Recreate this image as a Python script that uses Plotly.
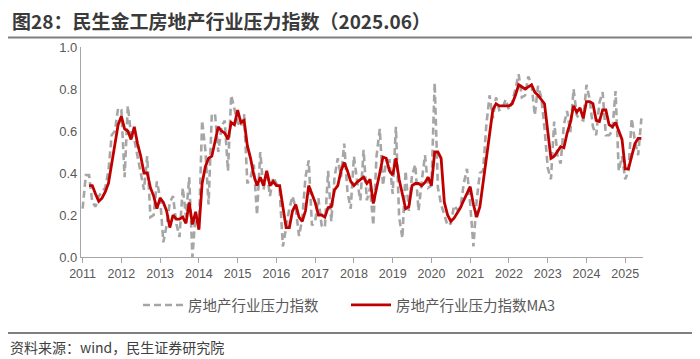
import plotly.graph_objects as go

# ---------------- data (monthly, 2011-01 .. 2025-06) ----------------
year_labels = [str(y) for y in range(2011, 2026)]

# raw index (grey dashed)
pressure_index = [
    0.23, 0.39, 0.39, 0.26, 0.24, 0.29, 0.31, 0.33, 0.41, 0.58, 0.60, 0.71,   # 2011
    0.70, 0.38, 0.72, 0.58, 0.56, 0.48, 0.40, 0.32, 0.48, 0.19, 0.20, 0.36,   # 2012
    0.28, 0.07, 0.15, 0.26, 0.29, 0.16, 0.095, 0.33, 0.19, 0.38, 0.0, 0.21,   # 2013
    0.13, 0.65, 0.51, 0.25, 0.68, 0.68, 0.50, 0.62, 0.65, 0.41, 0.77, 0.70,   # 2014
    0.64, 0.62, 0.68, 0.35, 0.38, 0.44, 0.20, 0.50, 0.32, 0.41, 0.29, 0.38,   # 2015
    0.35, 0.32, 0.05, 0.14, 0.23, 0.29, 0.23, 0.10, 0.18, 0.38, 0.46, 0.15,   # 2016
    0.17, 0.28, 0.15, 0.14, 0.41, 0.17, 0.38, 0.47, 0.38, 0.54, 0.31, 0.23,   # 2017
    0.48, 0.36, 0.27, 0.51, 0.27, 0.33, 0.15, 0.48, 0.61, 0.34, 0.46, 0.46,   # 2018
    0.30, 0.62, 0.19, 0.09, 0.41, 0.22, 0.39, 0.44, 0.22, 0.36, 0.485, 0.33,  # 2019
    0.34, 0.83, 0.33, 0.25, 0.20, 0.15, 0.16, 0.245, 0.225, 0.235, 0.35, 0.42,  # 2020
    0.25, 0.05, 0.27, 0.40, 0.41, 0.63, 0.77, 0.66, 0.76, 0.70, 0.71, 0.75,   # 2021
    0.70, 0.74, 0.80, 0.87, 0.76, 0.77, 0.86, 0.82, 0.675, 0.815, 0.76, 0.615,  # 2022
    0.425, 0.37, 0.645, 0.485, 0.445, 0.63, 0.695, 0.595, 0.80, 0.675, 0.655, 0.65,  # 2023
    0.82, 0.75, 0.62, 0.58, 0.735, 0.785, 0.58, 0.58, 0.60, 0.79, 0.41, 0.48,  # 2024
    0.37, 0.41, 0.66, 0.55, 0.485, 0.66,                                      # 2025
]

# 3-month moving average (red)
pressure_ma3 = [
    None, None, 0.34, 0.34, 0.30, 0.265, 0.28, 0.31, 0.35, 0.44, 0.53, 0.63,  # 2011
    0.67, 0.61, 0.60, 0.56, 0.62, 0.54, 0.48, 0.40, 0.40, 0.33, 0.29, 0.23,   # 2012
    0.28, 0.26, 0.22, 0.14, 0.20, 0.18, 0.18, 0.19, 0.16, 0.26, 0.155, 0.215,  # 2013
    0.13, 0.35, 0.43, 0.47, 0.48, 0.55, 0.62, 0.60, 0.59, 0.56, 0.64, 0.63,   # 2014
    0.70, 0.64, 0.65, 0.53, 0.47, 0.39, 0.34, 0.38, 0.34, 0.41, 0.34, 0.36,   # 2015
    0.34, 0.34, 0.25, 0.14, 0.14, 0.22, 0.25, 0.19, 0.17, 0.22, 0.34, 0.30,   # 2016
    0.26, 0.20, 0.20, 0.19, 0.235, 0.24, 0.32, 0.34, 0.41, 0.45, 0.41, 0.36,  # 2017
    0.34, 0.357, 0.37, 0.38, 0.35, 0.37, 0.255, 0.32, 0.40, 0.476, 0.47, 0.41,  # 2018
    0.39, 0.47, 0.37, 0.30, 0.23, 0.24, 0.34, 0.35, 0.35, 0.34, 0.355, 0.38,  # 2019
    0.34, 0.50, 0.50, 0.47, 0.26, 0.20, 0.17, 0.185, 0.21, 0.235, 0.27, 0.30,  # 2020
    0.335, 0.25, 0.19, 0.24, 0.36, 0.48, 0.60, 0.70, 0.73, 0.72, 0.72, 0.72,  # 2021
    0.72, 0.73, 0.77, 0.82, 0.81, 0.80, 0.81, 0.82, 0.785, 0.77, 0.75, 0.73,  # 2022
    0.60, 0.47, 0.48, 0.50, 0.525, 0.52, 0.59, 0.64, 0.72, 0.69, 0.71, 0.66,  # 2023
    0.74, 0.74, 0.73, 0.65, 0.645, 0.70, 0.70, 0.63, 0.62, 0.64, 0.60, 0.56,  # 2024
    0.42, 0.42, 0.48, 0.54, 0.565, 0.565,                                     # 2025
]

assert len(pressure_index) == len(pressure_ma3) == 174

months = list(range(len(pressure_index)))
year_ticks = [12 * i for i in range(len(year_labels))]

# ---------------- geometry (page pixels; the page body has an 8px margin) ----------------
OFF = 8
PAGE_W, PAGE_H = 700, 359
W, H = PAGE_W - OFF, PAGE_H - OFF
AX_L, AX_R, AX_T, AX_B = 81, 643, 47, 257     # plot area in page pixels
L = AX_L - OFF
T = AX_T - OFF
PW, PH = AX_R - AX_L, AX_B - AX_T
R = W - L - PW
B = H - T - PH


def px(x):
    return (x - AX_L) / PW


def py(y):
    return (AX_B - y) / PH


GREY = "#A6A6A6"
RED = "#C00000"
TXT = "#595959"
FONT = "Noto Sans CJK SC, Noto Sans, sans-serif"

fig = go.Figure()
fig.add_trace(go.Scatter(
    x=months, y=pressure_index, mode="lines", name="房地产行业压力指数",
    line=dict(color=GREY, width=2.6, dash="7px,4px"), legend="legend",
))
fig.add_trace(go.Scatter(
    x=months, y=pressure_ma3, mode="lines", name="房地产行业压力指数MA3",
    line=dict(color=RED, width=2.8), legend="legend2",
))

leg_common = dict(
    orientation="h", yanchor="middle", xanchor="left",
    font=dict(size=14.5, color=TXT, family=FONT),
    itemwidth=40, bgcolor="rgba(0,0,0,0)", borderwidth=0,
)

fig.update_layout(
    width=W, height=H,
    margin=dict(l=L, r=R, t=T, b=B, pad=0),
    paper_bgcolor="white", plot_bgcolor="white",
    font=dict(family=FONT, color=TXT),
    showlegend=True,
    legend=dict(x=px(138), y=py(305), **leg_common),
    legend2=dict(x=px(346), y=py(305), **leg_common),
    xaxis=dict(
        range=[-0.5, len(months) - 0.5],
        tickmode="array", tickvals=year_ticks, ticktext=year_labels,
        showline=True, linecolor="#A6A6A6", linewidth=1.3,
        ticks="outside", ticklen=5, tickcolor="#A6A6A6", tickwidth=1.3,
        showgrid=False, zeroline=False,
        tickfont=dict(size=12.5, color=TXT, family="Liberation Sans Narrow, Liberation Sans, sans-serif"),
    ),
    yaxis=dict(
        range=[0, 1.0], tickmode="array", tickvals=[0, 0.2, 0.4, 0.6, 0.8, 1.0],
        tickformat=".1f",
        showline=True, linecolor="#A6A6A6", linewidth=1.3,
        ticks="", showgrid=False, zeroline=False,
        tickfont=dict(size=13, color=TXT, family="Liberation Sans, sans-serif"),
    ),
)

# title
fig.add_annotation(
    text="<b>图28：民生金工房地产行业压力指数（2025.06）</b>",
    xref="paper", yref="paper", x=px(11), y=py(20.5), xanchor="left", yanchor="middle",
    showarrow=False, borderpad=0, font=dict(size=19, color="#3A3A3A", family=FONT),
)
# source
fig.add_annotation(
    text="资料来源：wind，民生证券研究院",
    xref="paper", yref="paper", x=px(8), y=py(347), xanchor="left", yanchor="middle",
    showarrow=False, font=dict(size=14, color="#404040", family=FONT),
)
# separator lines
fig.add_shape(type="line", xref="paper", yref="paper",
              x0=px(7), x1=px(693), y0=py(37.5), y1=py(37.5),
              line=dict(color="#7F7F7F", width=1.8))
fig.add_shape(type="line", xref="paper", yref="paper",
              x0=px(7), x1=px(693), y0=py(333), y1=py(333),
              line=dict(color="#7F7F7F", width=1.8))

fig.write_html("out.html")
